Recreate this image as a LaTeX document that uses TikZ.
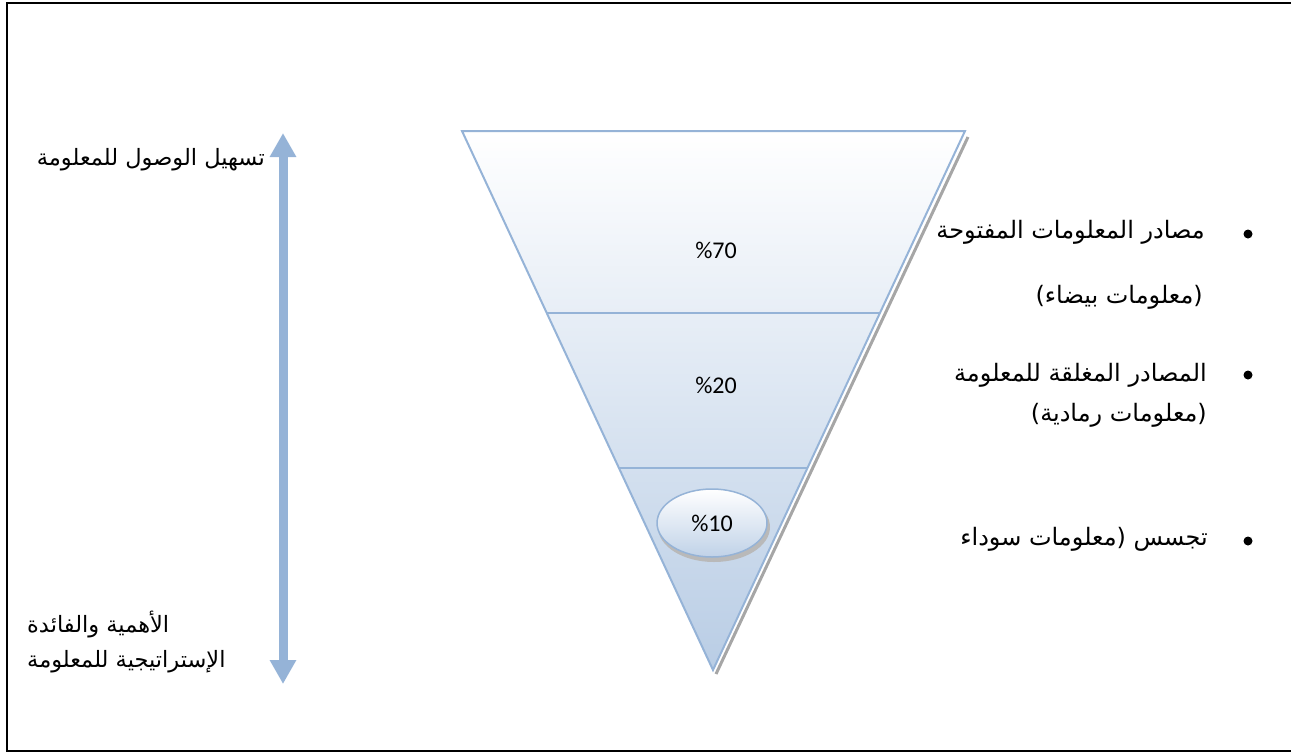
\documentclass[tikz,border=0pt]{standalone}
\usepackage{fontspec}
\usetikzlibrary{arrows.meta,shapes.geometric,calc}
\TeXXeTstate=1
\newfontfamily\arabicfont[Script=Arabic]{DejaVu Sans}
\newfontfamily\latfont{Carlito}
\definecolor{wblue}{HTML}{95B3D7}
\definecolor{wfill}{HTML}{B9CDE5}
\tikzset{
  ar/.style={font=\arabicfont\fontsize{24}{28}\selectfont, inner sep=0pt},
  arl/.style={font=\arabicfont\fontsize{22.5}{27}\selectfont, inner sep=0pt},
  pct/.style={font=\latfont\fontsize{24}{28}\selectfont, inner sep=0pt},
  bul/.style={circle, fill=black, inner sep=0pt, minimum size=9pt},
  divline/.style={wblue, line width=1.5pt},
}
\begin{document}
\begin{tikzpicture}[x=1pt,y=-1pt]
\useasboundingbox (0,0) rectangle (1291,753);
% outer frame
\draw[line width=2pt] (1300,3) -- (7,3) -- (7,751) -- (1300,751);
% funnel
\coordinate (tl) at (462,131);
\coordinate (tr) at (965,131);
\coordinate (ap) at (713,670);
\draw[gray!70, line width=3pt] ($(tr)+(3,6)$) -- ($(ap)+(3,4)$);
\begin{scope}
\clip (tl) -- (tr) -- (ap) -- cycle;
\shade[top color=white, bottom color=wfill] (440,131) rectangle (990,670);
\end{scope}
\draw[wblue, line width=2pt, line join=miter] (tl) -- (tr) -- (ap) -- cycle;
\draw[divline] ($(tl)!0.3377!(ap)$) coordinate (d1l) -- ($(tr)!0.3377!(ap)$) coordinate (d1r);
\draw[divline] ($(tl)!0.6252!(ap)$) coordinate (d2l) -- ($(tr)!0.6252!(ap)$) coordinate (d2r);
\node[pct] (p70) at (716,250) {\%70};
\node[pct] (p20) at (716,385) {\%20};
% ellipse
\node[ellipse, minimum width=112pt, minimum height=70pt, fill=gray!55] (esh) at (714,527) {};
\node[ellipse, minimum width=110pt, minimum height=68pt, draw=wblue, line width=1.5pt,
  top color=white, bottom color=wfill!90, pct] (p10) at (712,523) {\%10};
% arrow
\coordinate (atop) at (283,133);
\coordinate (abot) at (283,684);
\draw[wblue, line width=9pt, arrows={Triangle[width=25pt,length=24pt]-Triangle[width=25pt,length=24pt]}] (abot) -- (atop);
% left texts
\node[arl, anchor=east] (t1) at (265,160) {\beginR تسهيل الوصول للمعلومة\endR};
\node[arl, anchor=west] (t2) at (27,624) {\beginR الأهمية والفائدة\endR};
\node[arl, anchor=west] (t3) at (27,662) {\beginR الإستراتيجية للمعلومة\endR};
% right texts
\node[bul] (b1) at (1248,234) {};
\node[ar, anchor=east] (r1) at (1205,232) {\beginR مصادر المعلومات المفتوحة\endR};
\node[ar, anchor=east] (r1b) at (1203,297) {\beginR (معلومات بيضاء)\endR};
\node[bul] (b2) at (1248,375) {};
\node[ar, anchor=east] (r2) at (1207,375) {\beginR المصادر المغلقة للمعلومة\endR};
\node[ar, anchor=east] (r2b) at (1207,415) {\beginR (معلومات رمادية)\endR};
\node[bul] (b3) at (1248,541) {};
\node[ar, anchor=east] (r3) at (1208,539) {\beginR تجسس (معلومات سوداء\endR};
\end{tikzpicture}
\end{document}
